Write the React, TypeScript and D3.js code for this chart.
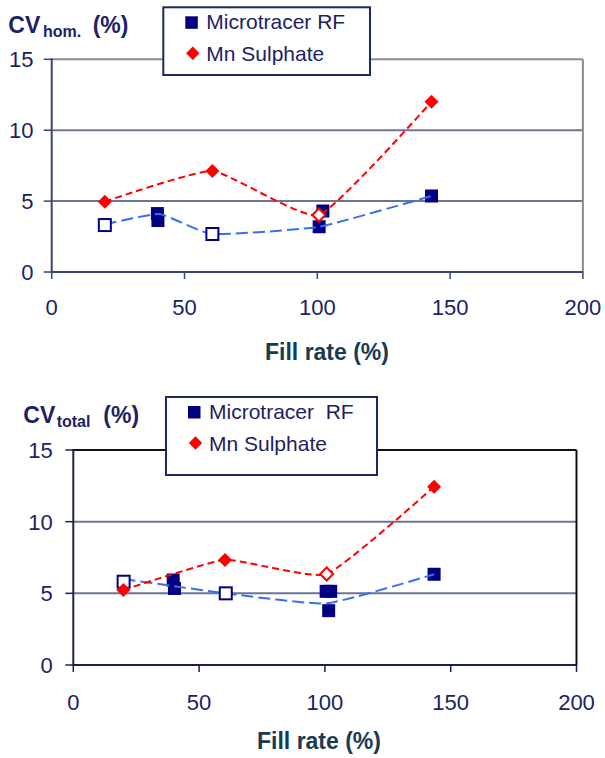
import React from 'react';
import * as d3 from 'd3';

const xTicks = [0, 50, 100, 150, 200];
const yTicks = [0, 5, 10, 15];
const legendNamesTop = ['Microtracer RF', 'Mn Sulphate'];
const legendNamesBottom = ['Microtracer  RF', 'Mn Sulphate'];

// CV hom. chart
const homBlueLineX = [20, 40.5, 60.5, 100.6, 143];
const homBlueLineY = [3.35, 4.09, 2.68, 3.19, 5.36];
const homBlueFilledX = [39.8, 40, 102.1, 100.7, 143];
const homBlueFilledY = [4.12, 3.63, 4.3, 3.19, 5.36];
const homBlueOpenX = [20, 60.5];
const homBlueOpenY = [3.31, 2.68];
const homRedLineX = [20, 60.5, 100.6, 143];
const homRedLineY = [4.96, 7.12, 4.02, 12.01];
const homRedFilledX = [20, 60.5, 143];
const homRedFilledY = [4.96, 7.12, 12.01];
const homRedOpenX = [100.6];
const homRedOpenY = [4.02];

// CV total chart
const totBlueLineX = [20, 40, 60.6, 100.8, 143.4];
const totBlueLineY = [6.0, 5.5, 5.0, 4.3, 6.33];
const totBlueFilledX = [39.7, 40.2, 100.5, 102.3, 101.5, 143.4];
const totBlueFilledY = [5.93, 5.34, 5.14, 5.14, 3.79, 6.33];
const totBlueOpenX = [20, 60.6];
const totBlueOpenY = [5.81, 5.0];
const totRedLineX = [19.9, 60.3, 100.7, 143.4];
const totRedLineY = [5.23, 7.33, 6.35, 12.44];
const totRedFilledX = [19.9, 60.3, 143.4];
const totRedFilledY = [5.23, 7.33, 12.44];
const totRedOpenX = [100.7];
const totRedOpenY = [6.35];

const NAVY = '#000080';
const RED = '#ff0000';
const BLUE_LINE = '#3a6ef2';
const TEXT = '#1c2266';
const GRID = '#6a7499';
const FONT = 'Liberation Sans, Arial, sans-serif';

type Pt = [number, number];
const zip = (xs: number[], ys: number[]): Pt[] => xs.map((x, i) => [x, ys[i]]);

interface ChartProps {
  left: number; right: number; top: number; bottom: number;
  frameColor: string; axisColor: string;
  sub: string; titleX: number[]; titleY: number;
  tickRight: number; xLabelBaseline: number; axisLabelX: number; axisLabelBaseline: number;
  legend: { x: number; y: number; w: number; h: number; names: string[] };
  blueLine: Pt[]; blueFilled: Pt[]; blueOpen: Pt[];
  redLine: Pt[]; redFilled: Pt[]; redOpen: Pt[];
}

function Chart(p: ChartProps) {
  const x = d3.scaleLinear().domain([0, 200]).range([p.left, p.right]);
  const y = d3.scaleLinear().domain([0, 15]).range([p.bottom, p.top]);
  const line = d3.line<Pt>().x(d => x(d[0])).y(d => y(d[1])).curve(d3.curveCardinal.tension(0.55));
  const sq = 13;
  const dia = (cx: number, cy: number, r: number) => `M${cx},${cy - r}L${cx + r},${cy}L${cx},${cy + r}L${cx - r},${cy}Z`;
  return (
    <g>
      {yTicks.filter(t => t > 0 && t < 15).map(t => (
        <line key={'g' + t} x1={p.left} x2={p.right} y1={y(t)} y2={y(t)} stroke={GRID} strokeWidth={2} />
      ))}
      <line x1={p.left} x2={p.right} y1={y(15)} y2={y(15)} stroke={p.frameColor} strokeWidth={2} />
      <line x1={p.right} x2={p.right} y1={y(15)} y2={y(0)} stroke={p.frameColor} strokeWidth={2} />
      <line x1={p.left} x2={p.left} y1={y(15) - 1} y2={y(0) + 1} stroke={p.axisColor} strokeWidth={2} />
      <line x1={p.left} x2={p.right} y1={y(0)} y2={y(0)} stroke={p.axisColor} strokeWidth={2} />
      {yTicks.map(t => (
        <g key={'y' + t}>
          <line x1={p.left - 8} x2={p.left} y1={y(t)} y2={y(t)} stroke={p.axisColor} strokeWidth={1.5} />
          <text x={p.tickRight} y={y(t) + 8} textAnchor="end" fontSize={22} fill={TEXT} fontFamily={FONT}>{t}</text>
        </g>
      ))}
      {xTicks.map(t => (
        <g key={'x' + t}>
          <line x1={x(t)} x2={x(t)} y1={y(0)} y2={y(0) + 7} stroke={p.axisColor} strokeWidth={1.5} />
          <text x={x(t)} y={p.xLabelBaseline} textAnchor="middle" fontSize={22} fill={TEXT} fontFamily={FONT}>{t}</text>
        </g>
      ))}
      <text x={p.titleX[0]} y={p.titleY} fontSize={23} fontWeight="bold" fill={TEXT} fontFamily={FONT}>CV</text>
      <text x={p.titleX[1]} y={p.titleY + 4} fontSize={16} fontWeight="bold" fill={TEXT} fontFamily={FONT}>{p.sub}</text>
      <text x={p.titleX[2]} y={p.titleY} fontSize={23} fontWeight="bold" fill={TEXT} fontFamily={FONT}>(%)</text>
      <text x={p.axisLabelX} y={p.axisLabelBaseline} textAnchor="middle" fontSize={23} fontWeight="bold" fill="#183a52" fontFamily={FONT}>Fill rate (%)</text>
      {p.blueFilled.map((d, i) => (
        <rect key={'bf' + i} x={x(d[0]) - sq / 2} y={y(d[1]) - sq / 2} width={sq} height={sq} fill={NAVY} />
      ))}
      <path d={line(p.blueLine) || ''} fill="none" stroke={BLUE_LINE} strokeWidth={2} strokeDasharray="12,5" />
      {p.blueOpen.map((d, i) => (
        <rect key={'bo' + i} x={x(d[0]) - 6} y={y(d[1]) - 6} width={12} height={12} fill="#fff" stroke={NAVY} strokeWidth={2} />
      ))}
      <path d={line(p.redLine) || ''} fill="none" stroke={RED} strokeWidth={2} strokeDasharray="7,4" />
      {p.redFilled.map((d, i) => (
        <path key={'rf' + i} d={dia(x(d[0]), y(d[1]), 7)} fill={RED} />
      ))}
      {p.redOpen.map((d, i) => (
        <path key={'ro' + i} d={dia(x(d[0]), y(d[1]), 6.5)} fill="#fff" stroke={RED} strokeWidth={2} />
      ))}
      <rect x={p.legend.x} y={p.legend.y} width={p.legend.w} height={p.legend.h} fill="#fff" stroke="#1e2766" strokeWidth={2} />
      <rect x={p.legend.x + 22} y={p.legend.y + 9} width={12.5} height={12.5} fill={NAVY} />
      <text x={p.legend.x + 43} y={p.legend.y + 22} fontSize={21} fill={TEXT} fontFamily={FONT} style={{ whiteSpace: 'pre' }}>{p.legend.names[0]}</text>
      <path d={dia(p.legend.x + 29.5, p.legend.y + 46, 6.7)} fill={RED} />
      <text x={p.legend.x + 43} y={p.legend.y + 54} fontSize={21} fill={TEXT} fontFamily={FONT} style={{ whiteSpace: 'pre' }}>{p.legend.names[1]}</text>
    </g>
  );
}

export default function App() {
  return (
    <svg width={605} height={758} style={{ position: 'absolute', left: 0, top: 0, background: '#fff' }}>
      <rect width={605} height={758} fill="#fff" />
      <Chart
        left={51.7} right={582.9} top={59.3} bottom={272}
        frameColor="#8c8c8c" axisColor="#3b4474"
        sub="hom." titleX={[8.3, 43, 92.7]} titleY={32.7}
        tickRight={33.5} xLabelBaseline={315} axisLabelX={327} axisLabelBaseline={360}
        legend={{ x: 163.3, y: 7.3, w: 206.7, h: 67.7, names: legendNamesTop }}
        blueLine={zip(homBlueLineX, homBlueLineY)}
        blueFilled={zip(homBlueFilledX, homBlueFilledY)}
        blueOpen={zip(homBlueOpenX, homBlueOpenY)}
        redLine={zip(homRedLineX, homRedLineY)}
        redFilled={zip(homRedFilledX, homRedFilledY)}
        redOpen={zip(homRedOpenX, homRedOpenY)}
      />
      <Chart
        left={73.3} right={576.5} top={450} bottom={665}
        frameColor="#111111" axisColor="#1a2050"
        sub="total" titleX={[23.3, 56.7, 103.3]} titleY={423.3}
        tickRight={52.7} xLabelBaseline={710} axisLabelX={319} axisLabelBaseline={749}
        legend={{ x: 166, y: 397, w: 211, h: 78, names: legendNamesBottom }}
        blueLine={zip(totBlueLineX, totBlueLineY)}
        blueFilled={zip(totBlueFilledX, totBlueFilledY)}
        blueOpen={zip(totBlueOpenX, totBlueOpenY)}
        redLine={zip(totRedLineX, totRedLineY)}
        redFilled={zip(totRedFilledX, totRedFilledY)}
        redOpen={zip(totRedOpenX, totRedOpenY)}
      />
    </svg>
  );
}
